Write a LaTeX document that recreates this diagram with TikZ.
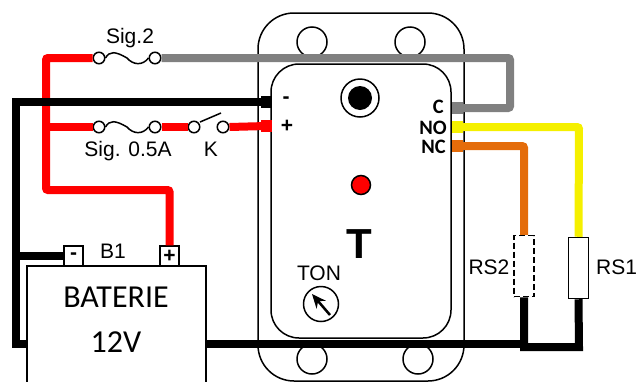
\documentclass[tikz,border=0pt]{standalone}
\usepackage{fontspec}
\usepackage{tikz}
\usetikzlibrary{arrows.meta, calc}
\newfontfamily\arialfont{Liberation Sans}
\newfontfamily\calibrifont{Carlito}
\definecolor{wiregray}{HTML}{808080}
\definecolor{wireyellow}{HTML}{F5F000}
\definecolor{wireorange}{HTML}{E46C0A}
\newcommand{\fusecurve}[2]{\draw[thinline] (#1.east) .. controls +(4,-7) and +(-12,-7) .. ($(#1)!0.5!(#2)$) .. controls +(6,7) and +(-6,8) .. (#2.west);}
\tikzset{
    thinline/.style={line width=1.5pt, black},
    wire/.style={line width=8pt, rounded corners=2pt},
    stub/.style={rectangle, minimum width=11pt, minimum height=12pt, inner sep=0pt},
    terminal/.style={circle, draw, line width=1.5pt, fill=white, minimum size=11.5pt, inner sep=0pt},
    hole/.style={circle, draw, line width=1.5pt, fill=white, minimum size=30pt, inner sep=0pt},
    label/.style={font=\arialfont\fontsize{21}{23}\selectfont, inner sep=0pt},
    pin/.style={font=\calibrifont\bfseries\fontsize{20.5}{21}\selectfont, text height=13pt, text depth=0pt, inner sep=0pt, anchor=east},
    post/.style={rectangle, draw, line width=1.5pt, fill=white, minimum width=19pt, minimum height=20pt, inner sep=0pt, font=\arialfont\bfseries\fontsize{21}{22}\selectfont},
    resistor/.style={rectangle, draw, line width=1.5pt, fill=white, minimum width=20pt, minimum height=61pt, inner sep=0pt}
}
\begin{document}
\begin{tikzpicture}[x=1pt, y=-1pt]
            \useasboundingbox (0,0) rectangle (637,381);

            %Relay body
            \node[draw, line width=1.5pt, rounded corners=36pt, minimum width=206pt, minimum height=368pt, inner sep=0pt] at (361,197) (case) {};
            \node[hole] at (312,42) (holeA) {};
            \node[hole] at (410,42) (holeB) {};
            \node[hole] at (312,359) (holeC) {};
            \node[hole] at (418,359) (holeD) {};
            \node[draw, line width=1.5pt, rounded corners=28pt, fill=white, minimum width=180pt, minimum height=274pt, inner sep=0pt] at (361,201) (face) {};

            %Nodes
            \node[terminal] at (99,58) (sigA) {};
            \node[terminal] at (155,58) (sigB) {};
            \node[terminal] at (99,127) (halfA) {};
            \node[terminal] at (155,127) (halfB) {};
            \node[terminal] at (194,127) (swA) {};
            \node[terminal] at (223,127) (swB) {};
            \coordinate (swBase) at (200,122);
            \coordinate (swEnd) at (221,113);

            \node[stub, fill=black] at (266,102) (minus) {};
            \node[stub, fill=red] at (266,126) (plus) {};
            \node[stub, fill=wiregray] at (457,108) (pinC) {};
            \node[stub, fill=wireyellow] at (457,127) (pinNO) {};
            \node[stub, fill=wireorange] at (457,146) (pinNC) {};

            \node[rectangle, draw, line width=1.5pt, fill=white, minimum width=179pt, minimum height=130pt, inner sep=0pt] at (116.5,331) (bat) {};
            \node[post] at (73.5,256) (batMinus) {-};
            \node[post] at (169.5,256) (batPlus) {+};

            \node[resistor, dash pattern=on 6pt off 3pt] at (524,266) (rsTwo) {};
            \node[resistor] at (578.5,268) (rsOne) {};

            %Corners
            \coordinate (redTop) at (46,58);
            \coordinate (redMid) at (46,127);
            \coordinate (redLow) at (46,190);
            \coordinate (redEnd) at (169.5,190);
            \coordinate (grayA) at (510,58);
            \coordinate (grayB) at (510,108);
            \coordinate (yellowA) at (579,127);
            \coordinate (orangeA) at (524,146);
            \coordinate (blackA) at (16,102);
            \coordinate (blackB) at (16,344);
            \coordinate (blackC) at (16,256);
            \coordinate (blackD) at (524,344);
            \coordinate (blackE) at (524,347);
            \coordinate (blackF) at (579,347);

            %Lines
            \draw[wire, red] (sigA.west) -- (redTop) -- (redLow) -- (redEnd) -- (batPlus.north);
            \draw[wire, red] (redMid) -- (halfA.west);
            \draw[wire, red] (halfB.east) -- (swA.west);
            \draw[wire, red] (swB.east) -- (plus.center);
            \draw[wire, wiregray] (sigB.east) -- (grayA) -- (grayB) -- (pinC.center);
            \draw[wire, wireyellow] (pinNO.center) -- (yellowA) -- (rsOne.north);
            \draw[wire, wireorange] (pinNC.center) -- (orangeA) -- (rsTwo.north);
            \draw[wire, black, rounded corners=0pt] (minus.center) -- (blackA) -- (blackB) -- (bat.west |- blackB);
            \draw[wire, black, rounded corners=0pt] (blackC) -- (batMinus.west);
            \draw[wire, black, rounded corners=0pt] (bat.east |- blackD) -- (blackD);
            \draw[wire, black, rounded corners=0pt] (rsTwo.south) -- (blackE) -- (blackF) -- (rsOne.south);

            \fusecurve{sigA}{sigB}
            \fusecurve{halfA}{halfB}
            \draw[thinline] (swBase) -- (swEnd);

            %Front panel
            \node[circle, draw, line width=1.5pt, minimum size=38pt, inner sep=0pt] at (360,98) (lamp) {};
            \node[circle, fill=black, minimum size=24pt, inner sep=0pt] at (lamp) (lampDot) {};
            \node[circle, draw, line width=1.5pt, fill=red, minimum size=19pt, inner sep=0pt] at (361,185) (led) {};
            \node[circle, draw, line width=1.5pt, minimum size=35pt, inner sep=0pt] at (321,304) (knob) {};
            \coordinate (knobTip) at (312,294);
            \coordinate (knobEnd) at (330,315);
            \draw[line width=2.5pt, -{Stealth[length=14pt, width=12pt]}] (knobEnd) -- (knobTip);

            %Labels
            \node[label] at (130,38) (sigTwoText) {Sig.2};
            \node[label] at (128,151) (sigHalfText) {Sig. 0.5A};
            \node[label] at (211,149) (kText) {K};
            \node[label] at (113,251) (bText) {B1};
            \node[label] at (319,273) (tonText) {TON};
            \node[label] at (489,267) (rsTwoText) {RS2};
            \node[label, anchor=west] at (596,267) (rsOneText) {RS1};
            \node[font=\arialfont\bfseries\fontsize{42}{44}\selectfont, inner sep=0pt] at (359,244) (tText) {T};
            \node[font=\calibrifont\fontsize{32}{34}\selectfont, inner sep=0pt] at (116,297) (batText) {BATERIE};
            \node[font=\calibrifont\fontsize{32}{34}\selectfont, inner sep=0pt] at (116,342) (voltText) {12V};
            \node[font=\arialfont\bfseries\fontsize{21}{22}\selectfont, inner sep=0pt] at (286,100) (minusText) {-};
            \node[font=\arialfont\bfseries\fontsize{21}{22}\selectfont, inner sep=0pt] at (287,126) (plusText) {+};
            \node[pin] at (444,107) (cText) {C};
            \node[pin] at (447,128) (noText) {NO};
            \node[pin] at (446,147) (ncText) {NC};
        \end{tikzpicture}
\end{document}
